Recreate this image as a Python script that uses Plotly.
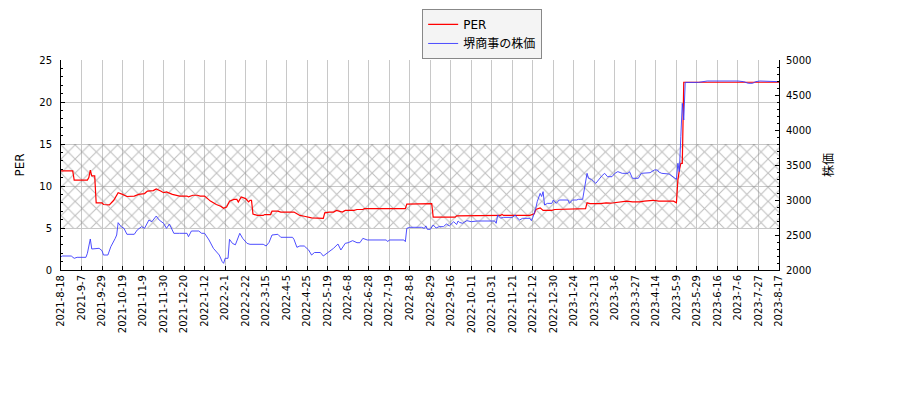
import plotly.graph_objects as go

# 取引日インデックス(2021-8-18 = 0)とPER
per_days = [0, 8, 9, 18, 19, 20, 21, 23, 24, 28, 29, 33, 36, 39, 42, 45, 50, 53, 57, 59,
            63, 65, 68, 70, 72, 76, 81, 86, 87, 90, 93, 95, 98, 100, 102, 106, 109, 111, 113, 115,
            118, 120, 121, 123, 126, 128, 129, 130, 131, 134, 138, 139, 143, 144, 148, 150, 159, 161, 163, 166,
            169, 171, 179, 180, 183, 186, 188, 190, 192, 194, 200, 202, 206, 207, 235, 236, 253, 254, 269, 270,
            282, 283, 300, 301, 302, 320, 322, 323, 324, 327, 329, 335, 337, 349, 352, 358, 359, 361, 368, 372,
            375, 381, 386, 390, 395, 398, 404, 408, 418, 420, 421, 422, 423, 424, 425, 490]
per_vals = [11.8, 11.8, 10.7, 10.7, 11.0, 11.9, 11.2, 11.2, 8.0, 8.0, 7.8, 7.75, 8.3, 9.2, 9.0, 8.75, 8.8, 9.0, 9.1, 9.4,
            9.45, 9.65, 9.4, 9.2, 9.3, 9.0, 8.8, 8.8, 8.7, 8.9, 8.9, 8.8, 8.8, 8.5, 8.2, 7.8, 7.6, 7.35, 7.5, 8.2,
            8.4, 8.4, 8.1, 8.7, 8.5, 8.1, 8.3, 8.3, 6.65, 6.5, 6.5, 6.6, 6.6, 7.0, 7.0, 6.9, 6.9, 6.7, 6.5, 6.4,
            6.3, 6.2, 6.15, 6.8, 6.9, 6.9, 7.1, 7.0, 6.9, 7.1, 7.1, 7.2, 7.2, 7.3, 7.3, 7.85, 7.9, 6.3, 6.3, 6.45,
            6.45, 6.5, 6.5, 6.6, 6.5, 6.5, 6.7, 6.7, 7.2, 7.4, 7.1, 7.1, 7.2, 7.25, 7.3, 7.3, 8.0, 7.9, 7.9, 8.0,
            7.95, 8.1, 8.2, 8.1, 8.1, 8.2, 8.3, 8.2, 8.2, 8.0, 10.7, 11.9, 12.7, 12.7, 22.35, 22.35]

# 株価
price_days = [0, 1, 7, 9, 11, 17, 18, 20, 21, 26, 28, 29, 32, 34, 37, 38, 39, 41, 43, 45,
              50, 52, 55, 57, 60, 62, 65, 67, 70, 72, 74, 77, 81, 86, 87, 89, 94, 96, 98, 101,
              104, 108, 110, 111, 112, 114, 115, 117, 119, 122, 124, 127, 129, 138, 140, 142, 144, 148, 150, 158,
              159, 161, 163, 166, 169, 171, 173, 177, 179, 183, 186, 189, 191, 194, 196, 199, 202, 204, 206, 209,
              222, 223, 224, 234, 235, 236, 238, 246, 248, 249, 250, 252, 254, 256, 258, 261, 263, 265, 268, 270,
              271, 272, 274, 277, 280, 284, 296, 297, 298, 300, 302, 308, 310, 311, 313, 315, 320, 321, 322, 324,
              325, 327, 328, 329, 330, 332, 335, 336, 338, 340, 346, 347, 349, 352, 353, 356, 357, 358, 359, 360,
              362, 365, 367, 369, 371, 373, 376, 378, 380, 383, 387, 388, 390, 394, 396, 400, 402, 405, 407, 408,
              410, 415, 417, 419, 420, 421, 422, 423, 424, 425, 426, 435, 441, 462, 466, 469, 472, 474, 477, 490]
price_vals = [2190, 2200, 2200, 2167, 2181, 2181, 2238, 2443, 2300, 2310, 2276, 2214, 2214, 2333, 2452, 2500, 2676, 2619, 2595, 2510,
              2510, 2571, 2619, 2595, 2714, 2690, 2771, 2714, 2667, 2595, 2657, 2524, 2524, 2524, 2476, 2557, 2557, 2524, 2524, 2429,
              2310, 2214, 2120, 2095, 2167, 2167, 2438, 2380, 2360, 2524, 2452, 2380, 2367, 2367, 2343, 2395, 2500, 2510, 2467, 2467,
              2438, 2324, 2343, 2343, 2286, 2214, 2250, 2250, 2200, 2262, 2310, 2371, 2286, 2381, 2390, 2419, 2390, 2390, 2452, 2429,
              2429, 2405, 2429, 2429, 2405, 2595, 2610, 2610, 2595, 2630, 2581, 2581, 2643, 2600, 2619, 2619, 2657, 2630, 2690, 2650,
              2700, 2680, 2667, 2705, 2690, 2700, 2700, 2667, 2786, 2740, 2752, 2752, 2786, 2752, 2714, 2738, 2738, 2705, 2752, 2881,
              2976, 3095, 3050, 3119, 2929, 2952, 2952, 3000, 2952, 3000, 3000, 2952, 3000, 3000, 3010, 3010, 3119, 3262, 3381, 3310,
              3295, 3238, 3295, 3343, 3381, 3333, 3333, 3381, 3405, 3381, 3381, 3405, 3310, 3310, 3381, 3381, 3390, 3429, 3429, 3400,
              3381, 3371, 3340, 3310, 3295, 3524, 3405, 3905, 4381, 4143, 4680, 4680, 4700, 4700, 4690, 4667, 4667, 4690, 4700, 4690]

tick_labels = ["2021-8-18", "2021-9-7", "2021-9-29", "2021-10-19", "2021-11-9", "2021-11-30",
               "2021-12-20", "2022-1-12", "2022-2-1", "2022-2-22", "2022-3-15", "2022-4-5",
               "2022-4-25", "2022-5-19", "2022-6-8", "2022-6-28", "2022-7-19", "2022-8-8",
               "2022-8-29", "2022-9-16", "2022-10-11", "2022-10-31", "2022-11-21", "2022-12-12",
               "2022-12-30", "2023-1-24", "2023-2-13", "2023-3-6", "2023-3-27", "2023-4-14",
               "2023-5-9", "2023-5-29", "2023-6-16", "2023-7-6", "2023-7-27", "2023-8-17"]
tick_step = 14  # 取引日14日ごと

band_low, band_high = 5, 15

font_main = "DejaVu Sans, Noto Sans CJK JP"
first_day, last_day = per_days[0], per_days[-1]

fig = go.Figure()

# PER 5〜15 のハッチ帯
fig.add_trace(go.Scatter(
    x=[first_day, last_day, last_day, first_day, first_day],
    y=[band_low, band_low, band_high, band_high, band_low],
    mode="lines", line=dict(width=0), fill="toself",
    fillcolor="rgba(0,0,0,0)",
    fillpattern=dict(shape="x", fgcolor="#808080", size=10, solidity=0.2,
                     bgcolor="rgba(0,0,0,0)"),
    showlegend=False, hoverinfo="skip"))

fig.add_trace(go.Scatter(x=per_days, y=per_vals, mode="lines", name="PER",
                         line=dict(color="#ff0000", width=1.2)))
fig.add_trace(go.Scatter(x=price_days, y=price_vals, mode="lines", name="堺商事の株価",
                         line=dict(color="#3a3aff", width=0.9), yaxis="y2"))

# ページの余白 (8px) を差し引いた余白
fig.update_layout(
    width=900, height=400,
    margin=dict(l=53, r=129, t=52, b=138, autoexpand=False),
    paper_bgcolor="white", plot_bgcolor="white",
    font=dict(family=font_main, size=10, color="#000"),
    legend=dict(x=0.503, y=1.243, xanchor="left", yanchor="top",
                bgcolor="#f4f4f4", bordercolor="#888888", borderwidth=1,
                font=dict(size=12), itemwidth=30, tracegroupgap=0),
    xaxis=dict(range=[first_day, last_day], automargin=False,
               tickvals=[i * tick_step for i in range(len(tick_labels))],
               ticktext=tick_labels, tickangle=-90,
               ticks="inside", ticklen=4, tickcolor="#000",
               showgrid=True, gridcolor="#c8c8c8", gridwidth=1,
               showline=True, linecolor="#000", linewidth=1, zeroline=False),
    yaxis=dict(range=[0, 25], dtick=5, automargin=False,
               title=dict(text="PER", standoff=12), ticklabelstandoff=6,
               ticks="inside", ticklen=4, tickcolor="#000",
               minor=dict(dtick=1, ticks="inside", ticklen=2, tickcolor="#000", showgrid=False),
               showgrid=True, gridcolor="#c8c8c8", gridwidth=1,
               showline=True, linecolor="#000", linewidth=1, zeroline=False),
    yaxis2=dict(range=[2000, 5000], dtick=500, overlaying="y", side="right",
                automargin=False, title=dict(text="株価", standoff=14), ticklabelstandoff=4,
                ticks="inside", ticklen=4, tickcolor="#000",
                minor=dict(dtick=100, ticks="inside", ticklen=2, tickcolor="#000", showgrid=False),
                showgrid=False, showline=True, linecolor="#000", linewidth=1, zeroline=False),
)

fig.write_html("out.html")
